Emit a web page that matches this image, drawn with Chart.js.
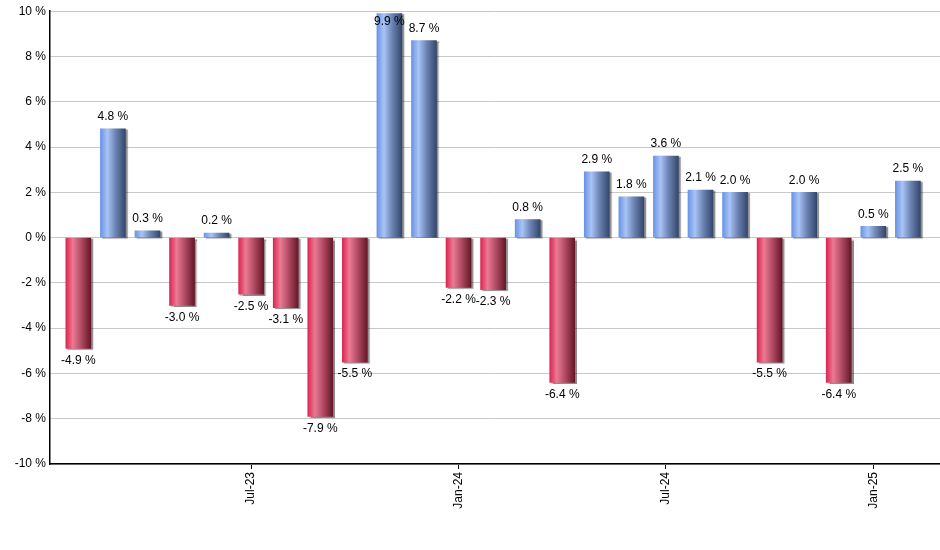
<!DOCTYPE html>
<html>
<head>
<meta charset="utf-8">
<script src="https://cdn.jsdelivr.net/npm/chart.js@4"></script>
<style>
html,body{margin:0;padding:0;background:#fff;}
#wrap{width:940px;height:550px;}
</style>
</head>
<body>
<div id="wrap"><canvas id="c" width="940" height="550"></canvas></div>
<script>
const months = ["Feb-23","Mar-23","Apr-23","May-23","Jun-23","Jul-23","Aug-23","Sep-23","Oct-23","Nov-23","Dec-23","Jan-24","Feb-24","Mar-24","Apr-24","May-24","Jun-24","Jul-24","Aug-24","Sep-24","Oct-24","Nov-24","Dec-24","Jan-25","Feb-25"];
const returns = [-4.9,4.8,0.3,-3.0,0.2,-2.5,-3.1,-7.9,-5.5,9.9,8.7,-2.2,-2.3,0.8,-6.4,2.9,1.8,3.6,2.1,2.0,-5.5,2.0,-6.4,0.5,2.5];
const labeledMonths = ["Jul-23","Jan-24","Jul-24","Jan-25"];
const yTicks = [-10,-8,-6,-4,-2,0,2,4,6,8,10];

const BAR_W = 25;
const FONT = "'Liberation Sans', Arial, sans-serif";

function barFill(ctx){
  const chart = ctx.chart;
  const v = returns[ctx.dataIndex];
  const xs = chart.scales && chart.scales.x;
  if(!xs || !chart.chartArea){ return v >= 0 ? '#7fa3ea' : '#d83a5e'; }
  const cx = xs.getPixelForValue(ctx.dataIndex);
  const x0 = cx - BAR_W/2, x1 = cx + BAR_W/2;
  const g = chart.ctx.createLinearGradient(x0,0,x1,0);
  if(v >= 0){
    g.addColorStop(0,'#6a94e6');
    g.addColorStop(0.28,'#a9c4f5');
    g.addColorStop(0.6,'#6d85b5');
    g.addColorStop(1,'#34466c');
  } else {
    g.addColorStop(0,'#dc2652');
    g.addColorStop(0.28,'#eb7a92');
    g.addColorStop(0.6,'#b34d66');
    g.addColorStop(1,'#661627');
  }
  return g;
}

const shadowPlugin = {
  id:'shadow',
  beforeDatasetsDraw(chart){
    const c = chart.ctx;
    c.save();
    c.shadowColor = 'rgba(0,0,0,0.45)';
    c.shadowOffsetX = 2;
    c.shadowOffsetY = 1;
    c.shadowBlur = 1;
  },
  afterDatasetsDraw(chart){
    chart.ctx.restore();
  }
};

const labelPlugin = {
  id:'valueLabels',
  afterDatasetsDraw(chart){
    const c = chart.ctx;
    const meta = chart.getDatasetMeta(0);
    const area = chart.chartArea;
    c.save();
    c.font = '12px ' + FONT;
    c.fillStyle = '#000';
    c.textAlign = 'center';
    c.textBaseline = 'middle';
    meta.data.forEach((bar,i)=>{
      const v = returns[i];
      const txt = v.toFixed(1) + ' %';
      let y;
      if(v >= 0){ y = Math.max(bar.y - 12, area.top + 10); }
      else { y = Math.min(bar.y + 12, area.bottom - 8); }
      c.fillText(txt, bar.x, y);
    });
    c.restore();
  }
};

new Chart(document.getElementById('c'),{
  type:'bar',
  data:{
    labels: months,
    datasets:[{
      data: returns.map((v,i)=>({x:i,y:v})),
      backgroundColor: barFill,
      borderWidth:0,
      barThickness: BAR_W
    }]
  },
  options:{
    responsive:false,
    animation:false,
    events:[],
    layout:{padding:{top:9,right:0,left:0,bottom:0}},
    plugins:{legend:{display:false},tooltip:{enabled:false}},
    scales:{
      x:{
        type:'linear',
        offset:false,
        min:-0.82,
        max:24.93,
        afterBuildTicks(scale){
          scale.ticks = labeledMonths.map(m=>({value: months.indexOf(m)}));
        },
        afterFit(scale){ scale.height = 86; },
        ticks:{
          autoSkip:false,
          maxRotation:90,
          minRotation:90,
          padding:3,
          color:'#000',
          font:{family:FONT,size:12},
          callback:(v)=>months[v]
        },
        grid:{display:true,offset:false,drawOnChartArea:false,drawTicks:true,tickLength:5,color:'#000',lineWidth:1},
        border:{display:true,color:'#000',width:1.5}
      },
      y:{
        min:-10,
        max:10,
        afterBuildTicks(scale){
          scale.ticks = yTicks.map(v=>({value:v}));
        },
        afterFit(scale){ scale.width = 50; },
        ticks:{
          color:'#000',
          padding:4,
          font:{family:FONT,size:12},
          callback:(v)=>v + ' %'
        },
        grid:{color:'#c8c8c8',lineWidth:1,drawTicks:false},
        border:{display:true,color:'#000',width:1.5}
      }
    }
  },
  plugins:[shadowPlugin,labelPlugin]
});
</script>
</body>
</html>
